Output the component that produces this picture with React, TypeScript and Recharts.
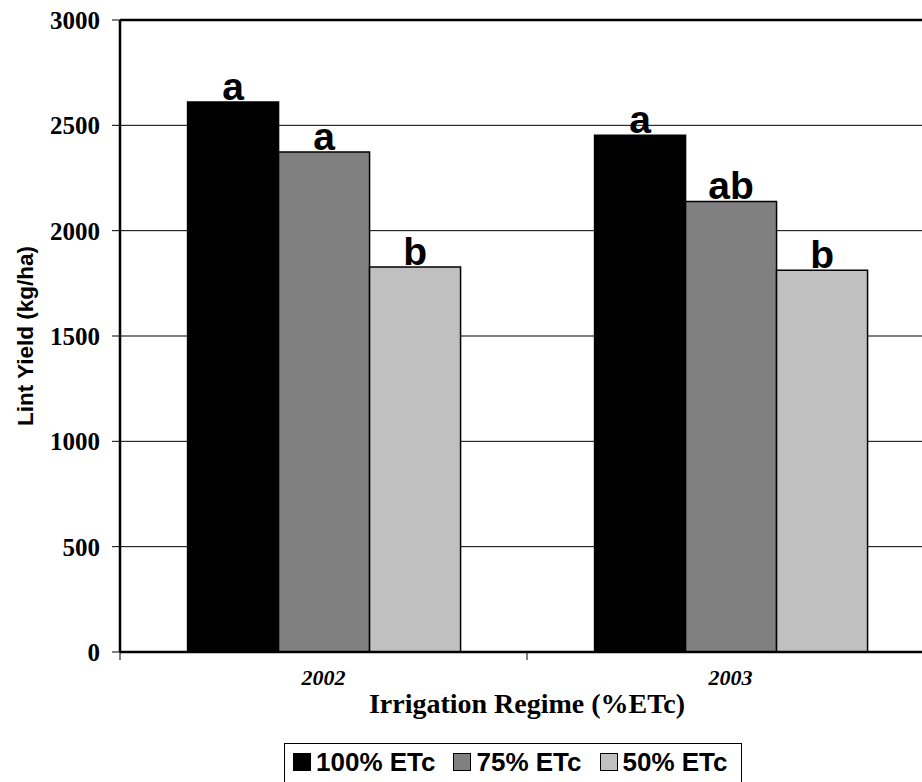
import { BarChart, Bar, XAxis, YAxis, CartesianGrid, ReferenceLine, Legend, LabelList, Label } from "recharts";

const years = ["2002", "2003"];
const etc100 = [2611, 2453];
const etc75 = [2373, 2139];
const etc50 = [1827, 1812];
const sig100 = ["a", "a"];
const sig75 = ["a", "ab"];
const sig50 = ["b", "b"];
const yTicks = [0, 500, 1000, 1500, 2000, 2500, 3000];

const series = [
  { key: "etc100", sig: "sig100", name: "100% ETc", color: "#000000" },
  { key: "etc75", sig: "sig75", name: "75% ETc", color: "#808080" },
  { key: "etc50", sig: "sig50", name: "50% ETc", color: "#c0c0c0" },
];

const data = years.map((year, i) => ({
  year,
  etc100: etc100[i],
  etc75: etc75[i],
  etc50: etc50[i],
  sig100: sig100[i],
  sig75: sig75[i],
  sig50: sig50[i],
}));

const SERIF = "'Liberation Serif', 'Times New Roman', serif";
const SANS = "'Liberation Sans', Arial, sans-serif";

function SigLabel(props: any) {
  const { x, y, width, value } = props;
  return (
    <text
      x={Number(x) + Number(width) / 2}
      y={Number(y) - 2}
      textAnchor="middle"
      fontFamily={SANS}
      fontWeight="bold"
      fontSize={39}
      fill="#000"
    >
      {value}
    </text>
  );
}

function YearTick(props: any) {
  const { x, y, payload } = props;
  const off = payload?.offset ?? 203.4;
  return (
    <g>
      <line x1={x - off} x2={x - off} y1={y - 8} y2={y} stroke="#000" strokeWidth={1} />
      <text
        x={x}
        y={y + 25}
        textAnchor="middle"
        fontFamily={SERIF}
        fontWeight="bold"
        fontStyle="italic"
        fontSize={22}
        fill="#000"
      >
        {payload.value}
      </text>
    </g>
  );
}

function LegendBox() {
  return (
    <div
      style={{
        display: "inline-flex",
        alignItems: "center",
        gap: 18,
        border: "1.5px solid #000",
        background: "#fff",
        padding: "5px 13px 14px 8px",
        fontFamily: SANS,
        fontWeight: "bold",
        fontSize: 26,
        lineHeight: "26px",
        color: "#000",
        whiteSpace: "nowrap",
      }}
    >
      {series.map((s) => (
        <span key={s.key} style={{ display: "inline-flex", alignItems: "center", gap: 5 }}>
          <span
            style={{
              display: "inline-block",
              width: 16,
              height: 16,
              background: s.color,
              border: "1px solid #000",
            }}
          />
          {s.name}
        </span>
      ))}
    </div>
  );
}

export default function App() {
  return (
    <div style={{ position: "absolute", left: 0, top: 0, width: 922, height: 782, overflow: "hidden", background: "#fff" }}>
      <BarChart
        width={960}
        height={800}
        data={data}
        margin={{ top: 20, right: 26, left: 0, bottom: 68 }}
        barCategoryGap="16.6%"
        barGap={0}
      >
        <CartesianGrid vertical={false} stroke="#000" strokeWidth={1} />
        <ReferenceLine y={3000} stroke="#000" strokeWidth={2.5} />
        <XAxis
          dataKey="year"
          height={80}
          axisLine={{ stroke: "#000", strokeWidth: 2.5 }}
          tickLine={false}
          tickSize={8}
          tickMargin={0}
          tick={<YearTick />}
          interval={0}
        >
          <Label
            content={(p: any) => {
              const vb = p.viewBox;
              return (
                <text
                  x={vb.x + vb.width / 2}
                  y={vb.y + 61}
                  textAnchor="middle"
                  fontFamily={SERIF}
                  fontWeight="bold"
                  fontSize={28}
                  fill="#000"
                >
                  Irrigation Regime (%ETc)
                </text>
              );
            }}
          />
        </XAxis>
        <YAxis
          width={120}
          domain={[0, 3000]}
          ticks={yTicks}
          interval={0}
          axisLine={{ stroke: "#000", strokeWidth: 2.5 }}
          tickLine={{ stroke: "#000", strokeWidth: 1 }}
          tickSize={8}
          tickMargin={12}
          tick={{ fill: "#000", fontFamily: SERIF, fontWeight: "bold", fontSize: 25 }}
        >
          <Label
            content={(p: any) => {
              const vb = p.viewBox;
              const cx = 33;
              const cy = vb.y + vb.height / 2;
              return (
                <text
                  x={cx}
                  y={cy}
                  transform={`rotate(-90 ${cx} ${cy})`}
                  textAnchor="middle"
                  fontFamily={SANS}
                  fontWeight="bold"
                  fontSize={22.5}
                  fill="#000"
                >
                  Lint Yield (kg/ha)
                </text>
              );
            }}
          />
        </YAxis>
        {series.map((s) => (
          <Bar key={s.key} dataKey={s.key} name={s.name} fill={s.color} stroke="#000" strokeWidth={1.5} isAnimationActive={false}>
            <LabelList dataKey={s.sig} content={<SigLabel />} />
          </Bar>
        ))}
        <Legend
          verticalAlign="middle"
          layout="horizontal"
          align="center"
          wrapperStyle={{ left: 284, top: 743, width: "auto", height: "auto" }}
          content={<LegendBox />}
        />
      </BarChart>
    </div>
  );
}
